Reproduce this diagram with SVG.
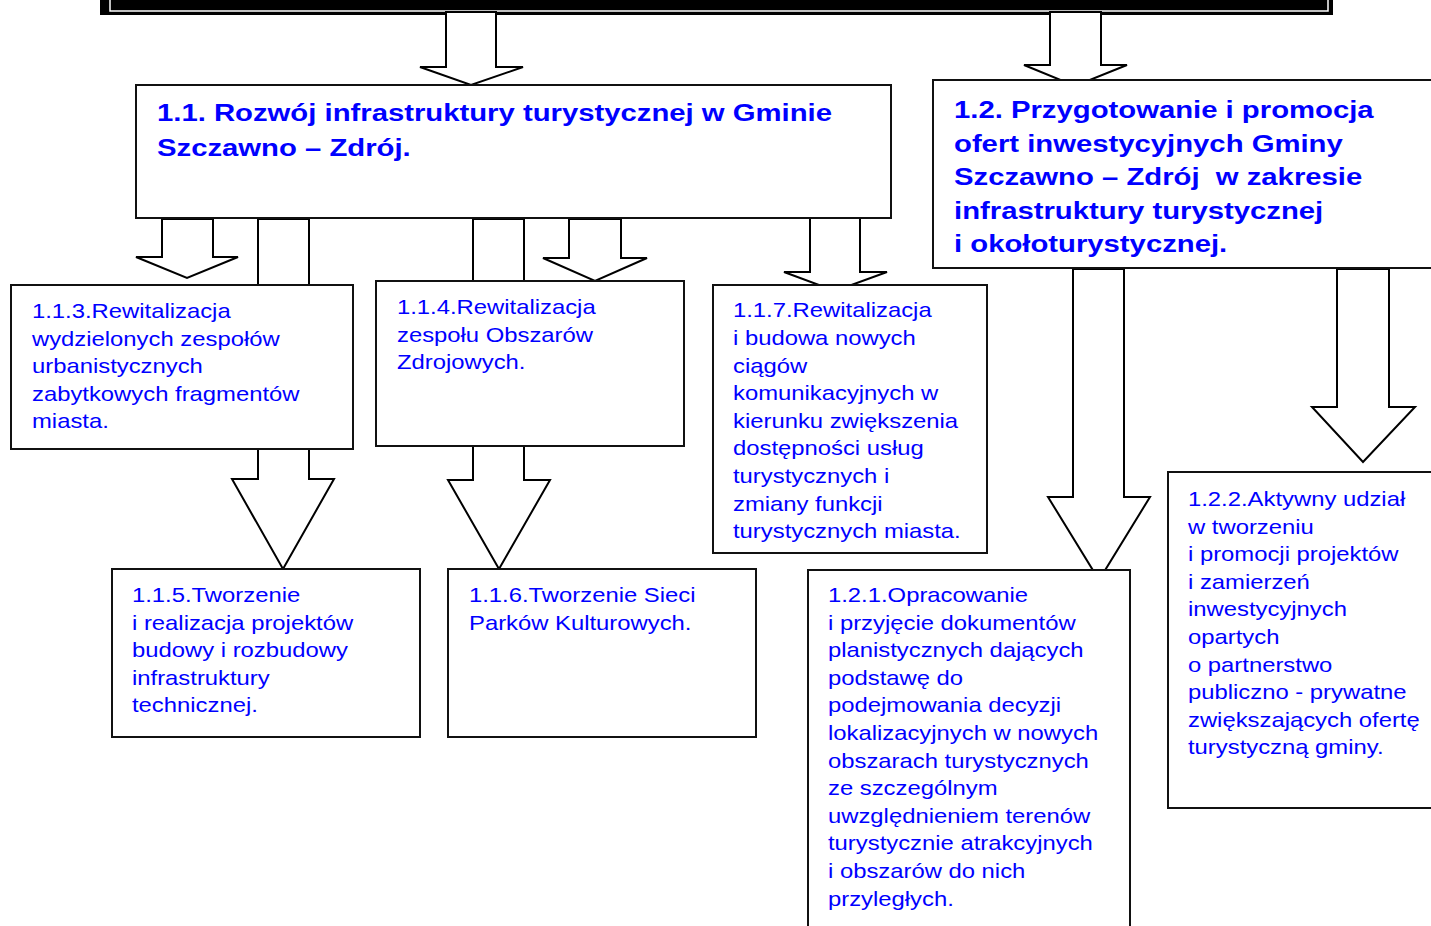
<svg xmlns="http://www.w3.org/2000/svg" width="1431" height="926" viewBox="0 0 1431 926">
<style>
.box{fill:#fff;stroke:#111;stroke-width:2}
.arr{fill:#fff;stroke:#000;stroke-width:2;stroke-linejoin:miter}
.t{font-family:"Liberation Sans",Arial,sans-serif;font-size:20.5px;fill:#0000ff}
.h{font-family:"Liberation Sans",Arial,sans-serif;font-size:24.5px;font-weight:bold;fill:#0000ff;white-space:pre}
</style>
<rect width="1431" height="926" fill="#fff"/>
<g id="top-bar">
<rect x="100" y="-10" width="1233" height="25" fill="#000"/>
<path d="M110,-5 V11 H1328 V-5" fill="none" stroke="#fff" stroke-width="1.5"/>
</g>
<g id="connectors">
<polygon class="arr" points="446,12 496,12 496,67 523,67 471,85 420,67 446,67"/>
<polygon class="arr" points="1050,12 1101,12 1101,65 1127,65 1075,86 1024,65 1050,65"/>
<polygon class="arr" points="162,219 213,219 213,257 238,257 187,278 136,257 162,257"/>
<polygon class="arr" points="258,219 309,219 309,479 334,479 283,569 232,479 258,479"/>
<polygon class="arr" points="473,219 524,219 524,480 550,480 499,569 448,480 473,480"/>
<polygon class="arr" points="569,219 621,219 621,258 647,258 595,281 543,258 569,258"/>
<polygon class="arr" points="810,217 860,217 860,272 887,272 835,291 784,272 810,272"/>
<polygon class="arr" points="1073,269 1124,269 1124,497 1150,497 1099,580 1048,497 1073,497"/>
<polygon class="arr" points="1337,269 1389,269 1389,407 1415,407 1363,462 1312,407 1337,407"/>
</g>
<g id="n11">
<rect class="box" x="136" y="85" width="755" height="133"/>
<text class="h" transform="matrix(1.195 0 0 1 157 0)"><tspan x="0" y="121.5">1.1. Rozwój infrastruktury turystycznej w Gminie</tspan><tspan x="0" y="156.5">Szczawno – Zdrój.</tspan></text>
</g>
<g id="n12">
<rect class="box" x="933" y="80" width="520" height="188"/>
<text class="h" transform="matrix(1.195 0 0 1 954 0)"><tspan x="0" y="118.5">1.2. Przygotowanie i promocja</tspan><tspan x="0" y="152">ofert inwestycyjnych Gminy</tspan><tspan x="0" y="185.5">Szczawno – Zdrój  w zakresie</tspan><tspan x="0" y="219">infrastruktury turystycznej</tspan><tspan x="0" y="252.5">i okołoturystycznej.</tspan></text>
</g>
<g id="n113">
<rect class="box" x="11" y="285" width="342" height="164"/>
<text class="t" transform="matrix(1.163 0 0 1 32 0)"><tspan x="0" y="318">1.1.3.Rewitalizacja</tspan><tspan x="0" y="345.6">wydzielonych zespołów</tspan><tspan x="0" y="373.2">urbanistycznych</tspan><tspan x="0" y="400.8">zabytkowych fragmentów</tspan><tspan x="0" y="428.4">miasta.</tspan></text>
</g>
<g id="n114">
<rect class="box" x="376" y="281" width="308" height="165"/>
<text class="t" transform="matrix(1.163 0 0 1 397 0)"><tspan x="0" y="314">1.1.4.Rewitalizacja</tspan><tspan x="0" y="341.6">zespołu Obszarów</tspan><tspan x="0" y="369.2">Zdrojowych.</tspan></text>
</g>
<g id="n117">
<rect class="box" x="713" y="285" width="274" height="268"/>
<text class="t" transform="matrix(1.163 0 0 1 733 0)"><tspan x="0" y="317.5">1.1.7.Rewitalizacja</tspan><tspan x="0" y="345.1">i budowa nowych</tspan><tspan x="0" y="372.7">ciągów</tspan><tspan x="0" y="400.3">komunikacyjnych w</tspan><tspan x="0" y="427.9">kierunku zwiększenia</tspan><tspan x="0" y="455.5">dostępności usług</tspan><tspan x="0" y="483.1">turystycznych i</tspan><tspan x="0" y="510.7">zmiany funkcji</tspan><tspan x="0" y="538.3">turystycznych miasta.</tspan></text>
</g>
<g id="n115">
<rect class="box" x="112" y="569" width="308" height="168"/>
<text class="t" transform="matrix(1.163 0 0 1 132 0)"><tspan x="0" y="602">1.1.5.Tworzenie</tspan><tspan x="0" y="629.6">i realizacja projektów</tspan><tspan x="0" y="657.2">budowy i rozbudowy</tspan><tspan x="0" y="684.8">infrastruktury</tspan><tspan x="0" y="712.4">technicznej.</tspan></text>
</g>
<g id="n116">
<rect class="box" x="448" y="569" width="308" height="168"/>
<text class="t" transform="matrix(1.163 0 0 1 469 0)"><tspan x="0" y="602">1.1.6.Tworzenie Sieci</tspan><tspan x="0" y="629.6">Parków Kulturowych.</tspan></text>
</g>
<g id="n121">
<rect class="box" x="808" y="570" width="322" height="380"/>
<text class="t" transform="matrix(1.163 0 0 1 828 0)"><tspan x="0" y="602">1.2.1.Opracowanie</tspan><tspan x="0" y="629.6">i przyjęcie dokumentów</tspan><tspan x="0" y="657.2">planistycznych dających</tspan><tspan x="0" y="684.8">podstawę do</tspan><tspan x="0" y="712.4">podejmowania decyzji</tspan><tspan x="0" y="740">lokalizacyjnych w nowych</tspan><tspan x="0" y="767.6">obszarach turystycznych</tspan><tspan x="0" y="795.2">ze szczególnym</tspan><tspan x="0" y="822.8">uwzględnieniem terenów</tspan><tspan x="0" y="850.4">turystycznie atrakcyjnych</tspan><tspan x="0" y="878">i obszarów do nich</tspan><tspan x="0" y="905.6">przyległych.</tspan></text>
</g>
<g id="n122">
<rect class="box" x="1168" y="472" width="290" height="336"/>
<text class="t" transform="matrix(1.163 0 0 1 1188 0)"><tspan x="0" y="506">1.2.2.Aktywny udział</tspan><tspan x="0" y="533.6">w tworzeniu</tspan><tspan x="0" y="561.2">i promocji projektów</tspan><tspan x="0" y="588.8">i zamierzeń</tspan><tspan x="0" y="616.4">inwestycyjnych</tspan><tspan x="0" y="644">opartych</tspan><tspan x="0" y="671.6">o partnerstwo</tspan><tspan x="0" y="699.2">publiczno - prywatne</tspan><tspan x="0" y="726.8">zwiększających ofertę</tspan><tspan x="0" y="754.4">turystyczną gminy.</tspan></text>
</g>
</svg>
